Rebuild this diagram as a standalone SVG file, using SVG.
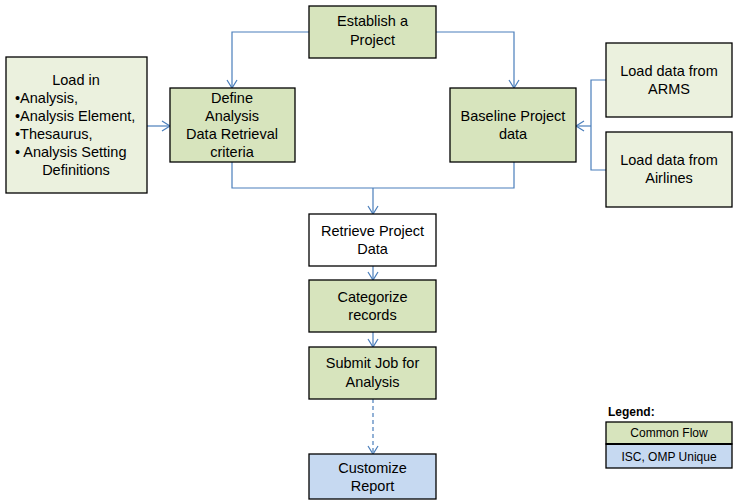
<svg xmlns="http://www.w3.org/2000/svg" width="740" height="504" viewBox="0 0 740 504">
<defs>
<style>
.g{fill:#d7e4bd;stroke:#000;stroke-width:1.3}
.l{fill:#ebf1de;stroke:#000;stroke-width:1.3}
.w{fill:#fff;stroke:#000;stroke-width:1.3}
.b{fill:#c6d9f1;stroke:#000;stroke-width:1.3}
text{font-family:"Liberation Sans",Arial,sans-serif;font-size:14.5px;fill:#000}
.c{text-anchor:middle}
.sm{font-size:12px}
.c1{fill:none;stroke:#4a7ebb;stroke-width:1.2}
</style>
<marker id="ah" markerWidth="12" markerHeight="12" refX="10" refY="6" orient="auto" markerUnits="userSpaceOnUse">
<polyline points="2,1 10,6 2,11" fill="none" stroke="#4a7ebb" stroke-width="1.2"/>
</marker>
</defs>
<rect width="740" height="504" fill="#fff"/>
<g id="connectors">
<polyline class="c1" points="309,32 232,32 232,88" marker-end="url(#ah)"/>
<polyline class="c1" points="436,32 514,32 514,88" marker-end="url(#ah)"/>
<line class="c1" x1="147" y1="126" x2="170" y2="126" marker-end="url(#ah)"/>
<polyline class="c1" points="606,80 591,80 591,170 606,170"/>
<line class="c1" x1="591" y1="126" x2="576" y2="126" marker-end="url(#ah)"/>
<polyline class="c1" points="232,162 232,188 514,188 514,162"/>
<line class="c1" x1="373" y1="188" x2="373" y2="214" stroke-width="2.2" marker-end="url(#ah)"/>
<line class="c1" x1="373" y1="266" x2="373" y2="280" marker-end="url(#ah)"/>
<line class="c1" x1="373" y1="332" x2="373" y2="347" marker-end="url(#ah)"/>
<line class="c1" x1="373" y1="399" x2="373" y2="454" stroke-dasharray="4,3" marker-end="url(#ah)"/>
</g>
<g id="establish"><rect class="g" x="309" y="6" width="127" height="52"/><text class="c" x="372.5" y="26">Establish a</text><text class="c" x="372.5" y="45">Project</text></g>
<g id="loadin"><rect class="l" x="6" y="57" width="141" height="136"/>
<text class="c" x="76" y="85">Load in</text>
<text x="15" y="103">•Analysis,</text>
<text x="15" y="121">•Analysis Element,</text>
<text x="15" y="139">•Thesaurus,</text>
<text x="15" y="157">• Analysis Setting</text>
<text class="c" x="76" y="175">Definitions</text></g>
<g id="define"><rect class="g" x="170" y="88" width="125" height="74"/>
<text class="c" x="232" y="103">Define</text><text class="c" x="232" y="121">Analysis</text><text class="c" x="232" y="139">Data Retrieval</text><text class="c" x="232" y="157">criteria</text></g>
<g id="baseline"><rect class="g" x="450" y="88" width="126" height="74"/><text class="c" x="513" y="121">Baseline Project</text><text class="c" x="513" y="139">data</text></g>
<g id="arms"><rect class="l" x="606" y="43" width="126" height="74"/><text class="c" x="669" y="76">Load data from</text><text class="c" x="669" y="94">ARMS</text></g>
<g id="airlines"><rect class="l" x="606" y="132" width="126" height="75"/><text class="c" x="669" y="165">Load data from</text><text class="c" x="669" y="183">Airlines</text></g>
<g id="retrieve"><rect class="w" x="309" y="214" width="127" height="52"/><text class="c" x="372.5" y="236">Retrieve Project</text><text class="c" x="372.5" y="254">Data</text></g>
<g id="categorize"><rect class="g" x="309" y="280" width="127" height="52"/><text class="c" x="372.5" y="302">Categorize</text><text class="c" x="372.5" y="320">records</text></g>
<g id="submit"><rect class="g" x="309" y="347" width="127" height="52"/><text class="c" x="372.5" y="368">Submit Job for</text><text class="c" x="372.5" y="387">Analysis</text></g>
<g id="customize"><rect class="b" x="309" y="454" width="127" height="45"/><text class="c" x="372.5" y="473">Customize</text><text class="c" x="372.5" y="491">Report</text></g>
<g id="legend">
<text class="sm" x="608" y="416" font-weight="bold">Legend:</text>
<rect class="g" x="606" y="422" width="126" height="22"/>
<rect class="b" x="606" y="444" width="126" height="24"/>
<line x1="606" y1="444" x2="732" y2="444" stroke="#000" stroke-width="2"/>
<text class="c sm" x="669" y="437">Common Flow</text>
<text class="c sm" x="669" y="461">ISC, OMP Unique</text>
</g>
</svg>
